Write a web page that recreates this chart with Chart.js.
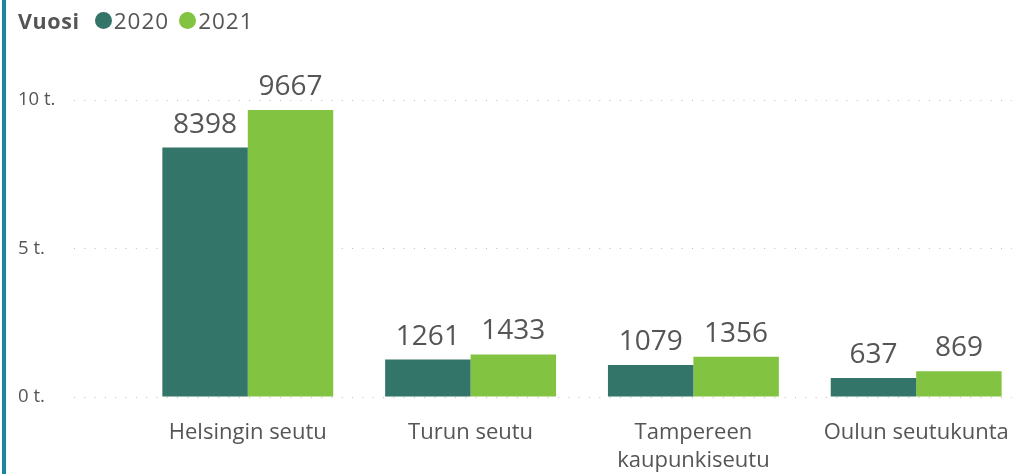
<!DOCTYPE html>
<html>
<head>
<meta charset="utf-8">
<script src="https://cdn.jsdelivr.net/npm/chart.js@4"></script>
<style>
  html, body { margin: 0; padding: 0; background: #fff; }
  #wrap { position: relative; width: 1018px; height: 474px; overflow: hidden; font-family: "Open Sans", sans-serif; }
  #edge { position: absolute; left: 2px; top: 0; width: 4px; height: 474px; background: #1a86a4; }
  #legend { position: absolute; left: 18px; top: 5px; font-size: 22.5px; color: #555; display: flex; align-items: center; }
  #legend b { margin-right: 15px; font-size: 21.5px; letter-spacing: 0.6px; }
  .dot { display: inline-block; width: 17px; height: 17px; border-radius: 50%; margin-right: 2px; }
  .item { display: flex; align-items: center; margin-right: 10px; letter-spacing: 1px; }
  canvas { position: absolute; left: 0; top: 0; }
</style>
</head>
<body>
<div id="wrap">
  <canvas id="chart" width="1018" height="474"></canvas>
  <div id="edge"></div>
  <div id="legend"></div>
</div>
<script>
const categories = ['Helsingin seutu', 'Turun seutu', ['Tampereen', 'kaupunkiseutu'], 'Oulun seutukunta'];
const years = ['2020', '2021'];
const values2020 = [8398, 1261, 1079, 637];
const values2021 = [9667, 1433, 1356, 869];
const yTickLabels = { 0: '0 t.', 5000: '5 t.', 10000: '10 t.' };
const colors = ['#34756a', '#82c341'];

const legendTitle = 'Vuosi';
const legendEl = document.getElementById('legend');
legendEl.innerHTML = '<b>' + legendTitle + '</b>' + years.map((y, i) =>
    '<span class="item"><span class="dot" style="background:' + colors[i] + '"></span>' + y + '</span>').join('');

const toPoints = arr => arr.map((v, i) => ({ x: i, y: v }));

// numeroarvot pylväiden yläpuolelle
const valueLabels = {
    id: 'valueLabels',
    afterDatasetsDraw(chart) {
        const ctx = chart.ctx;
        ctx.save();
        ctx.font = '28px "Open Sans"';
        ctx.fillStyle = '#555';
        ctx.textAlign = 'center';
        ctx.textBaseline = 'alphabetic';
        chart.data.datasets.forEach((ds, di) => {
            chart.getDatasetMeta(di).data.forEach((bar, i) => {
                ctx.fillText(String(ds.data[i].y), bar.x, bar.y - 15);
            });
        });
        ctx.restore();
    }
};

const data = {
    datasets: [
        { label: years[0], data: toPoints(values2020), backgroundColor: colors[0] },
        { label: years[1], data: toPoints(values2021), backgroundColor: colors[1] },
    ],
};

const options = {
    responsive: false,
    animation: false,
    layout: { padding: { left: 18, top: 100, right: 6, bottom: 0 } },
    datasets: { bar: { categoryPercentage: 0.767, barPercentage: 1.0 } },
    scales: {
        x: {
            type: 'linear',
            offset: false,
            min: -0.78,
            max: 3.43,
            grid: { display: false, drawTicks: false },
            border: { display: false },
            ticks: {
                stepSize: 1,
                includeBounds: false,
                autoSkip: false,
                maxRotation: 0,
                padding: 21,
                color: '#555',
                font: { family: 'Open Sans', size: 22, lineHeight: 1.3 },
                callback: v => (Number.isInteger(v) && categories[v] !== undefined) ? categories[v] : '',
            },
            afterFit: s => {
                s.height = 77;
                s.paddingLeft = 0;
                s.paddingRight = 0;
            },
        },
        y: {
            min: 0,
            max: 10000,
            grid: { color: '#bdbdbd', lineWidth: 1, drawTicks: false },
            border: { display: false, dash: [1, 9.3] },
            ticks: {
                stepSize: 5000,
                crossAlign: 'far',
                color: '#555',
                font: { family: 'Open Sans', size: 18.5 },
                callback: v => yTickLabels[v] ?? '',
            },
            afterFit: s => { s.width = 56; },
        },
    },
    plugins: {
        legend: { display: false },
        tooltip: { enabled: false },
    },
};

new Chart(document.getElementById('chart'), { type: 'bar', data, options, plugins: [valueLabels] });
</script>
</body>
</html>
